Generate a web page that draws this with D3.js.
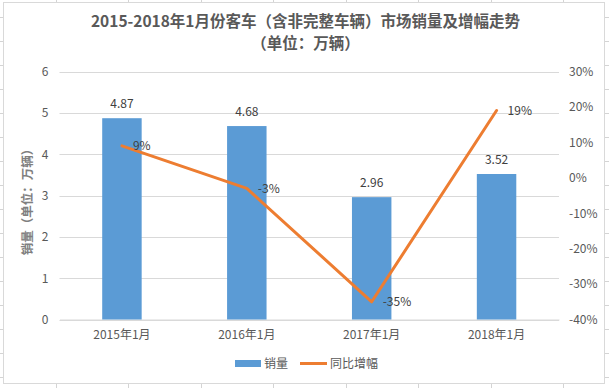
<!DOCTYPE html>
<html>
<head>
<meta charset="utf-8">
<script src="https://cdn.jsdelivr.net/npm/d3@7/dist/d3.min.js"></script>
<style>
  html, body { margin: 0; padding: 0; background: #fff; }
  svg { display: block; font-family: "Noto Sans CJK SC", "Noto Sans", sans-serif; }
</style>
</head>
<body>
<svg id="chart" width="609" height="388"></svg>
<script>
const categories = ["2015年1月", "2016年1月", "2017年1月", "2018年1月"];
const sales = [4.87, 4.68, 2.96, 3.52];          // 销量（万辆）
const growth = [9, -3, -35, 19];                  // 同比增幅（%）
const leftTicks = [0, 1, 2, 3, 4, 5, 6];
const rightTicks = [-40, -30, -20, -10, 0, 10, 20, 30];
const titleLines = ["2015-2018年1月份客车（含非完整车辆）市场销量及增幅走势", "（单位：万辆）"];
const yTitle = "销量（单位：万辆）";
const legendNames = ["销量", "同比增幅"];

const W = 609, H = 388;
const svg = d3.select("#chart");

// spreadsheet grid in the background
const sheet = svg.append("g");
const colX = [56.5, 128.5, 201.5, 273.5, 346.5, 418.5, 491.5, 563.5];
const rowY = d3.range(0, 17).map(i => 17.5 + 24 * i);
colX.forEach(x => sheet.append("line").attr("x1", x).attr("x2", x).attr("y1", 0).attr("y2", H).attr("stroke", "#d4d4d4"));
rowY.forEach(y => sheet.append("line").attr("x1", 0).attr("x2", W).attr("y1", y).attr("y2", y).attr("stroke", "#d4d4d4"));

// chart box
svg.append("rect").attr("x", 3.5).attr("y", 2.5).attr("width", 601).attr("height", 381)
  .attr("fill", "#fff").attr("stroke", "#d9d9d9");

const plotL = 59.5, plotR = 559, plotT = 71.5, plotB = 319.5;

const x = d3.scaleBand().domain(categories).range([plotL, plotR]).paddingInner(0.684).paddingOuter(0.342);
const y = d3.scaleLinear().domain([0, 6]).range([plotB, plotT]);
const y2 = d3.scaleLinear().domain([-40, 30]).range([plotB, plotT]);
const cx = c => x(c) + x.bandwidth() / 2;

// gridlines
svg.append("g").selectAll("line").data(leftTicks).join("line")
  .attr("x1", plotL).attr("x2", plotR)
  .attr("y1", d => Math.round(y(d)) + 0.5).attr("y2", d => Math.round(y(d)) + 0.5)
  .attr("stroke", "#d9d9d9");

// left axis
const axL = svg.append("g").attr("transform", `translate(${plotL},0)`)
  .call(d3.axisLeft(y).tickValues(leftTicks).tickSize(0).tickPadding(11).tickFormat(d3.format("d")));
axL.select(".domain").remove();
axL.selectAll("text").attr("fill", "#595959").style("font-size", "12px").style("font-family", "'Noto Sans CJK SC', sans-serif");

// right axis
const axR = svg.append("g").attr("transform", `translate(${plotR},0)`)
  .call(d3.axisRight(y2).tickValues(rightTicks).tickSize(0).tickPadding(10).tickFormat(d => d + "%"));
axR.select(".domain").remove();
axR.selectAll("text").attr("fill", "#595959").style("font-size", "12px").style("font-family", "'Noto Sans CJK SC', sans-serif");

// bottom axis
const axB = svg.append("g").attr("transform", `translate(0,${plotB})`)
  .call(d3.axisBottom(x).tickSize(0).tickPadding(11));
axB.select(".domain").attr("stroke", "#d9d9d9");
axB.selectAll("text").attr("fill", "#595959").style("font-size", "12px").style("font-family", "'Noto Sans CJK SC', sans-serif");

// bars
svg.append("g").selectAll("rect").data(sales).join("rect")
  .attr("x", (d, i) => x(categories[i]))
  .attr("width", x.bandwidth())
  .attr("y", d => y(d))
  .attr("height", d => y(0) - y(d))
  .attr("fill", "#5B9BD5");

// bar labels
svg.append("g").selectAll("text").data(sales).join("text")
  .attr("x", (d, i) => cx(categories[i]))
  .attr("y", d => y(d) - 10)
  .attr("text-anchor", "middle")
  .attr("fill", "#404040").style("font-size", "12px")
  .text(d => d.toFixed(2));

// line
const line = d3.line().x((d, i) => cx(categories[i])).y(d => y2(d));
svg.append("path").datum(growth).attr("d", line)
  .attr("fill", "none").attr("stroke", "#ED7D31").attr("stroke-width", 3)
  .attr("stroke-linejoin", "round").attr("stroke-linecap", "round");

// line labels
svg.append("g").selectAll("text").data(growth).join("text")
  .attr("x", (d, i) => cx(categories[i]) + 11)
  .attr("y", d => y2(d))
  .attr("dy", "0.35em")
  .attr("fill", "#404040").style("font-size", "12px")
  .text(d => d + "%");

// title
svg.append("g").selectAll("text").data(titleLines).join("text")
  .attr("x", 305.5)
  .attr("y", (d, i) => 22 + i * 21.5)
  .attr("dy", "0.35em")
  .attr("text-anchor", "middle")
  .attr("fill", "#595959").style("font-size", "15.5px").style("font-weight", "bold")
  .text(d => d);

// y axis title
svg.append("text")
  .attr("transform", "translate(28,199) rotate(-90)")
  .attr("text-anchor", "middle").attr("dy", "0.35em")
  .attr("fill", "#808080").style("font-size", "12.5px").style("font-weight", "bold")
  .text(yTitle);

// legend
const lg = svg.append("g");
lg.append("rect").attr("x", 235).attr("y", 360).attr("width", 26).attr("height", 7).attr("fill", "#5B9BD5");
lg.append("text").attr("x", 264).attr("y", 363.5).attr("dy", "0.35em").attr("fill", "#595959").style("font-size", "12px").text(legendNames[0]);
lg.append("line").attr("x1", 300).attr("x2", 327).attr("y1", 363.5).attr("y2", 363.5)
  .attr("stroke", "#ED7D31").attr("stroke-width", 3);
lg.append("text").attr("x", 330).attr("y", 363.5).attr("dy", "0.35em").attr("fill", "#595959").style("font-size", "12px").text(legendNames[1]);
</script>
</body>
</html>
